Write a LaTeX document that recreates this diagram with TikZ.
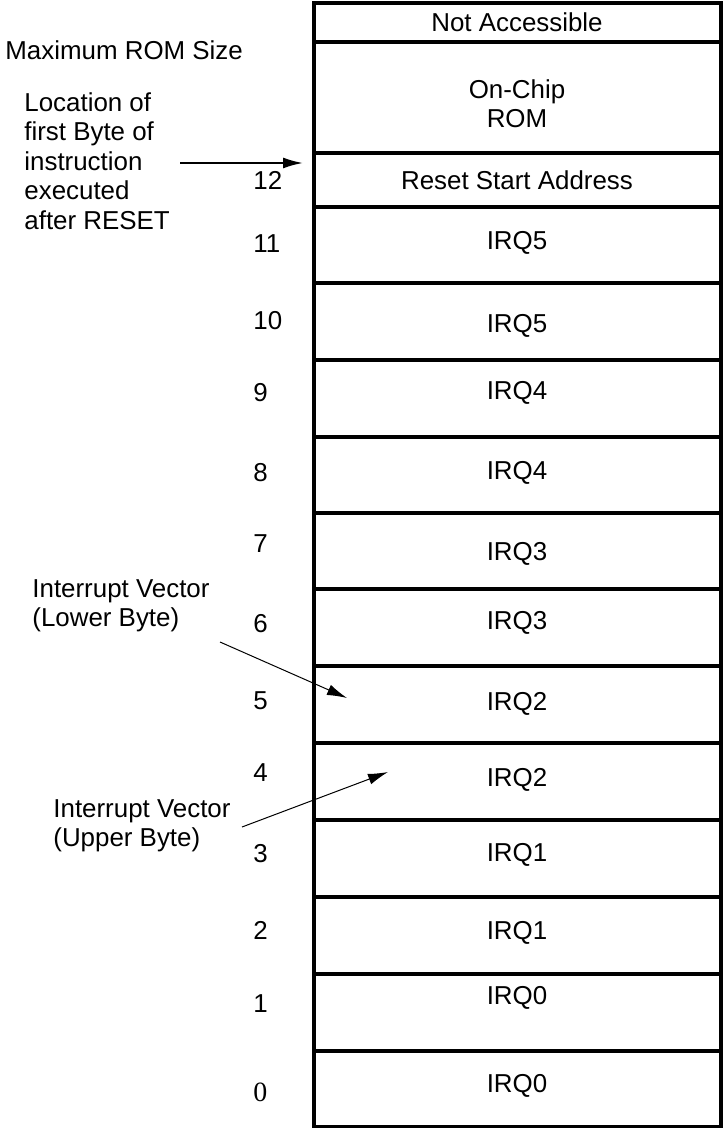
\documentclass[tikz,border=0pt]{standalone}
\usepackage{fontspec}
\setmainfont{Liberation Sans}
\newfontfamily\digitserif{Liberation Serif}
\usetikzlibrary{arrows.meta}
\begin{document}
\begin{tikzpicture}[x=0.5bp,y=-0.5bp,
  font=\fontsize{13}{14.8}\selectfont,
  memline/.style={line width=2bp},
  celltext/.style={inner sep=0pt,text height=9.4bp,text depth=0pt},
  addrnum/.style={celltext,anchor=west},
  note/.style={inner sep=0pt,align=left,anchor=north west},
  pointer/.style={line width=0.5bp,-{Latex[length=10bp,width=5.5bp]}}]
\useasboundingbox (0,0) rectangle (723,1128);

% draw memory map outline
\draw[memline] (314,3) rectangle (721,1127);

% draw row boundaries
\foreach \y in {42,153,207,283,360,437,513,589,666,743,820,897,974,1051}
  \draw[memline] (314,\y) -- (721,\y);

% draw cell texts
\node[celltext] (na) at (517,22) {Not Accessible};
\node[inner sep=0pt,align=center,anchor=north] (rom) at (517,79) {On-Chip\\ROM};
\node[celltext] (rst) at (517,180) {Reset Start Address};
\foreach \y/\t [count=\i] in {240/IRQ5,323/IRQ5,390/IRQ4,470/IRQ4,
    551/IRQ3,620/IRQ3,701/IRQ2,777/IRQ2,852/IRQ1,930/IRQ1,995/IRQ0,1083/IRQ0}
  \node[celltext] (irq\i) at (517,\y) {\t};

% draw addresses
\foreach \y/\n in {180/12,243/11,320/10,392/9,472/8,543/7,623/6,700/5,
    772/4,853/3,930/2,1003/1}
  \node[addrnum] (addr\n) at (253,\y) {\n};
\node[addrnum,font=\fontsize{14}{16}\selectfont\digitserif] (addr0) at (253,1092) {0};

% draw notes
\node[celltext,anchor=west] (maxrom) at (5,50) {Maximum ROM Size};
\node[note] (locnote) at (24,92) {Location of\\first Byte of\\instruction\\executed\\after RESET};
\node[note] (lownote) at (32,579) {Interrupt Vector\\(Lower Byte)};
\node[note] (upnote) at (53,799) {Interrupt Vector\\(Upper Byte)};

% draw pointers
\coordinate (loctail) at (180,163);
\coordinate (lochead) at (303,163);
\coordinate (lowtail) at (220,642);
\coordinate (lowhead) at (347,698);
\coordinate (uptail) at (242,827);
\coordinate (uphead) at (388,772);
\draw[pointer,line width=1bp] (loctail) -- (lochead);
\draw[pointer] (lowtail) -- (lowhead);
\draw[pointer] (uptail) -- (uphead);
\end{tikzpicture}
\end{document}
